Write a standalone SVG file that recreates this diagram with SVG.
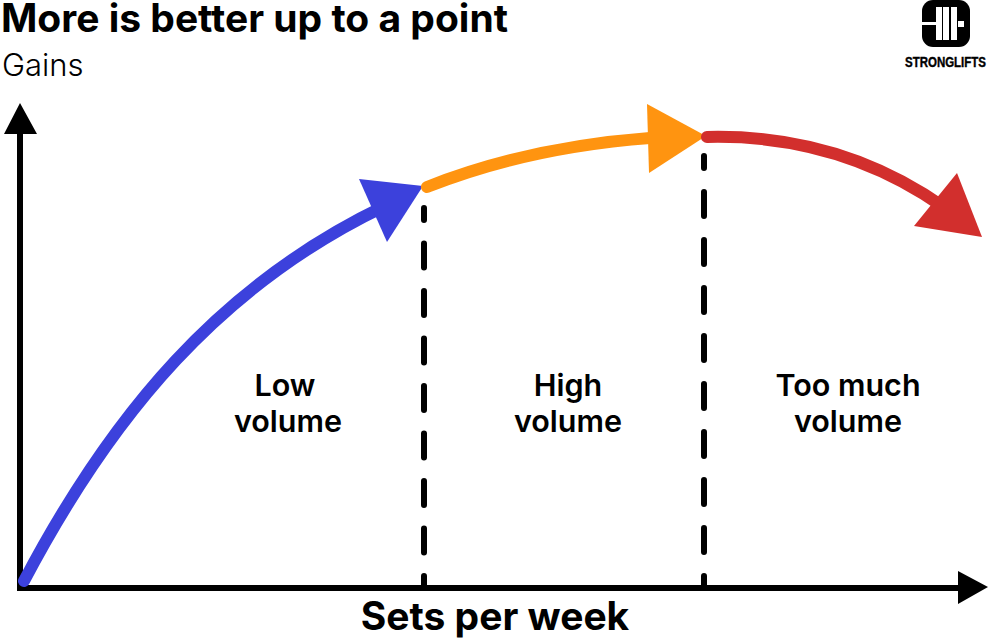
<svg xmlns="http://www.w3.org/2000/svg" width="988" height="640" viewBox="0 0 988 640">
<style>
text{font-family:"Inter","Liberation Sans",sans-serif;fill:#000}
.b{font-weight:700}
.lab{font-weight:600;font-size:30.5px;text-anchor:middle}
.d{fill:none;stroke:#000;stroke-width:6;stroke-linecap:round}
.c{fill:none;stroke-width:12;stroke-linecap:round}
</style>
<rect width="988" height="640" fill="#fff"/>
<g id="title"><text class="b" x="1" y="32" font-size="39">More is better up to a point</text></g>
<g id="ylabel"><text x="2" y="76" font-size="31" font-weight="300">Gains</text></g>
<g id="logo">
<rect x="922" y="0" width="48" height="47" rx="11" fill="#000"/>
<g fill="#fff"><rect x="922" y="22" width="14" height="3"/><rect x="936" y="7" width="6" height="33"/><rect x="943" y="7" width="6" height="33"/><rect x="951" y="7" width="6" height="33"/><rect x="958" y="21" width="6" height="6"/></g>
<text transform="translate(905 67) scale(.82 1)" font-size="14" font-weight="700" stroke="#000" stroke-width=".4" style="font-family:'Liberation Sans',sans-serif">STRONGLIFTS</text>
</g>
<g id="connectors">
<path d="M20 130V591M17 588H960" fill="none" stroke="#000" stroke-width="6"/>
<path d="M20 103L37 134H4ZM988 587L958 571V604Z" fill="#000"/>
<path class="d" stroke-dasharray="24 23.5" stroke-dashoffset="12" d="M424 208V587"/>
<path class="d" stroke-dasharray="24 24" stroke-dashoffset="12" d="M704 156V587"/>
<path class="c" stroke="#3c41dc" d="M24 581C112 414 220 285 385 206"/>
<path d="M423 186L359 179L387 242Z" fill="#3c41dc"/>
<path class="c" stroke="#ff9410" d="M427 187C495 160 570 144 650 138"/>
<path d="M706 136L647 104L649 173Z" fill="#ff9410"/>
<path class="c" stroke="#d22f2d" d="M707 137C790 135 870 155 945 208"/>
<path d="M982 237L957 173L914 226Z" fill="#d22f2d"/>
</g>
<g id="low"><text class="lab" x="285" y="396">Low</text><text class="lab" x="288" y="432">volume</text></g>
<g id="high"><text class="lab" x="568" y="396">High</text><text class="lab" x="568" y="432">volume</text></g>
<g id="toomuch"><text class="lab" x="848" y="396">Too much</text><text class="lab" x="848" y="432">volume</text></g>
<g id="xlabel"><text class="b" x="495" y="630" font-size="39" text-anchor="middle">Sets per week</text></g>
</svg>
